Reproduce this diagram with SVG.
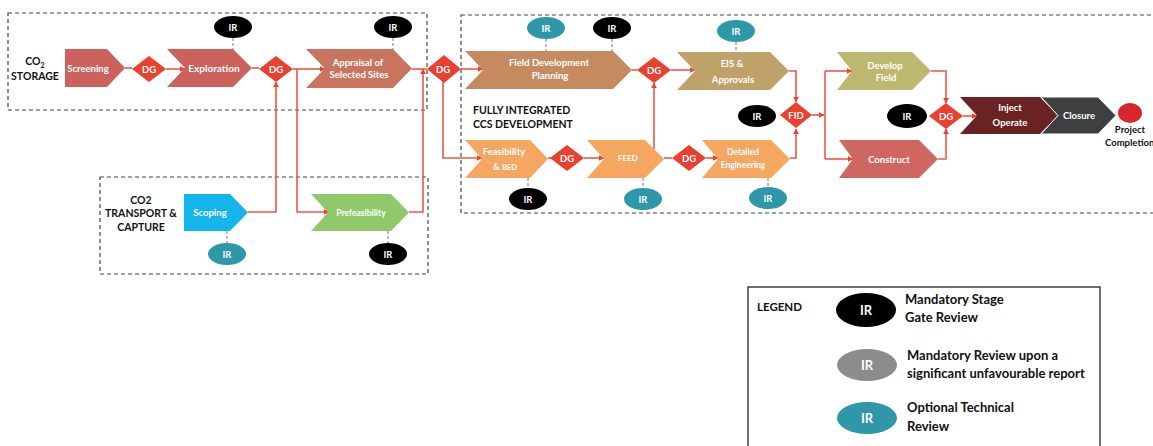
<svg xmlns="http://www.w3.org/2000/svg" width="1153" height="446" viewBox="0 0 1153 446">
<defs>
<style>
.t{font-family:Lato,"Open Sans","Liberation Sans",sans-serif;font-weight:bold;fill:#fff;text-anchor:middle}
.k{font-family:Lato,"Open Sans","Liberation Sans",sans-serif;font-weight:bold;fill:#111}
.box{fill:none;stroke:#444;stroke-width:1.2;stroke-dasharray:4 3}
.dg{fill:#EA4030}
.c{fill:none;stroke:#F05545;stroke-width:1.6}
.ca{fill:none;stroke:#F05545;stroke-width:1.6;marker-end:url(#ah)}
.dl{stroke:#777;stroke-width:1;stroke-dasharray:3 2}
.irb{fill:#000}
.irt{fill:#2E97A8}
.irg{fill:#8C8C8C}
</style>
<marker id="ah" viewBox="0 0 10 10" refX="9" refY="5" markerWidth="6" markerHeight="6" orient="auto" markerUnits="userSpaceOnUse">
<path d="M0,0 L10,5 L0,10 Z" fill="#F0402F"/>
</marker>
</defs>
<rect width="1153" height="446" fill="#fff"/>

<g id="boxes">
<rect class="box" x="8" y="13" width="419" height="97"/>
<rect class="box" x="100" y="177" width="328" height="97"/>
<rect class="box" x="461" y="15" width="720" height="198"/>
</g>

<g id="labels">
<text class="k" x="35" y="65" font-size="10.5" text-anchor="middle">CO<tspan font-size="7" dy="3">2</tspan></text>
<text class="k" x="35" y="80" font-size="10.5" text-anchor="middle">STORAGE</text>
<text class="k" x="141" y="204" font-size="10.5" text-anchor="middle">CO2</text>
<text class="k" x="141" y="217" font-size="10.5" text-anchor="middle">TRANSPORT &amp;</text>
<text class="k" x="141" y="231" font-size="10.5" text-anchor="middle">CAPTURE</text>
<text class="k" x="473" y="114" font-size="10.5">FULLY INTEGRATED</text>
<text class="k" x="473" y="128" font-size="10.5">CCS DEVELOPMENT</text>
</g>

<g id="connectors">
<path class="c" d="M125,68 H132"/>
<path class="ca" d="M166,69 H185"/>
<path class="c" d="M252,68 H259"/>
<path class="ca" d="M293,69 H325"/>
<path class="ca" d="M248,212 H276 V82"/>
<path class="ca" d="M297,69 V212 H329"/>
<path class="c" d="M412,69 H427"/>
<path class="ca" d="M409,212 H423 V69"/>
<path class="ca" d="M461,69 H483"/>
<path class="ca" d="M443,82 V158 H482"/>
<path class="c" d="M632,70 H637"/>
<path class="ca" d="M671,70 H695"/>
<path class="ca" d="M654,149 V83"/>
<path class="c" d="M548,158 H551"/>
<path class="ca" d="M584,158 H604"/>
<path class="c" d="M664,158 H672"/>
<path class="ca" d="M706,158 H718"/>
<path class="ca" d="M789,71 H796 V102"/>
<path class="ca" d="M790,158 H796 V129"/>
<path class="ca" d="M812,115 H824"/>
<path class="c" d="M825,71 V159"/>
<path class="ca" d="M825,71 H852"/>
<path class="ca" d="M825,159 H853"/>
<path class="ca" d="M931,71 H946 V103"/>
<path class="ca" d="M938,159 H946 V129"/>
<path class="ca" d="M963,116 H977"/>
<line class="dl" x1="233" y1="38" x2="233" y2="49"/>
<line class="dl" x1="393" y1="38" x2="393" y2="49"/>
<line class="dl" x1="227" y1="231" x2="227" y2="243"/>
<line class="dl" x1="388" y1="231" x2="388" y2="243"/>
<line class="dl" x1="546" y1="39" x2="546" y2="51"/>
<line class="dl" x1="612" y1="39" x2="612" y2="51"/>
<line class="dl" x1="736" y1="42" x2="736" y2="52"/>
<line class="dl" x1="528" y1="178" x2="528" y2="188"/>
<line class="dl" x1="643" y1="178" x2="643" y2="188"/>
<line class="dl" x1="768" y1="178" x2="768" y2="187"/>
</g>

<g id="screening"><path d="M65,49 H107 L125,68 L107,87 H65 Z" fill="#CB625C"/><text class="t" x="88" y="72" font-size="9.5">Screening</text></g>
<g id="dg1"><path class="dg" d="M149,56 L166,69 L149,82 L132,69 Z"/><text class="t" x="149" y="73" font-size="9.5">DG</text></g>
<g id="exploration"><path d="M167,49 H233 L252,68 L233,87 H167 L185,68 Z" fill="#CB625C"/><text class="t" x="214" y="72" font-size="10">Exploration</text></g>
<g id="ir1"><ellipse class="irb" cx="233" cy="27" rx="19" ry="11"/><text class="t" x="233" y="31" font-size="9.5">IR</text></g>
<g id="dg2"><path class="dg" d="M276,56 L293,69 L276,82 L259,69 Z"/><text class="t" x="276" y="73" font-size="9.5">DG</text></g>
<g id="appraisal"><path d="M306,49 H393 L412,68.5 L393,88 H306 L325,68.5 Z" fill="#C8745E"/><text class="t" x="358" y="66" font-size="9.5">Appraisal of</text><text class="t" x="359" y="78" font-size="9.5">Selected Sites</text></g>
<g id="ir2"><ellipse class="irb" cx="393" cy="27" rx="19" ry="11"/><text class="t" x="393" y="31" font-size="9.5">IR</text></g>
<g id="dg3"><path class="dg" d="M444,55 L461,69 L444,83 L427,69 Z"/><text class="t" x="443" y="73" font-size="9.5">DG</text></g>

<g id="scoping"><path d="M184,194 H230 L248,212.5 L230,231 H184 Z" fill="#14B5EA"/><text class="t" x="210" y="216" font-size="9.5">Scoping</text></g>
<g id="ir3"><ellipse class="irt" cx="227" cy="254" rx="19" ry="11"/><text class="t" x="227" y="258" font-size="9.5">IR</text></g>
<g id="prefeasibility"><path d="M311,194 H391 L409,212.5 L391,231 H311 L328,212.5 Z" fill="#8FC96C"/><text class="t" x="361" y="216" font-size="8.5">Prefeasibility</text></g>
<g id="ir4"><ellipse class="irb" cx="388" cy="254" rx="19" ry="11"/><text class="t" x="388" y="258" font-size="9.5">IR</text></g>

<g id="fdp"><path d="M465,51 H613 L632,70 L613,89 H465 L483,70 Z" fill="#C68A5F"/><text class="t" x="549" y="66" font-size="9.5">Field Development</text><text class="t" x="550" y="79" font-size="9.5">Planning</text></g>
<g id="ir5"><ellipse class="irt" cx="546" cy="28" rx="19" ry="11"/><text class="t" x="546" y="32" font-size="9.5">IR</text></g>
<g id="ir6"><ellipse class="irb" cx="612" cy="28" rx="19" ry="11"/><text class="t" x="612" y="32" font-size="9.5">IR</text></g>
<g id="dg4"><path class="dg" d="M654,57 L671,70 L654,83 L637,70 Z"/><text class="t" x="654" y="74" font-size="9.5">DG</text></g>
<g id="eis"><path d="M677,52 H770 L789,71 L770,90 H677 L695,71 Z" fill="#BFA26A"/><text class="t" x="732" y="67" font-size="9.5">EIS &amp;</text><text class="t" x="733" y="83" font-size="9.5">Approvals</text></g>
<g id="ir7"><ellipse class="irt" cx="736" cy="31" rx="19" ry="11"/><text class="t" x="736" y="35" font-size="9.5">IR</text></g>

<g id="feasibility"><path d="M465,140 H530 L548,159 L530,178 H465 L482,159 Z" fill="#F5A661"/><text class="t" x="504" y="155" font-size="9.5">Feasibility</text><text class="t" x="505" y="170" font-size="9.5">&amp; <tspan font-size="7.5">BED</tspan></text></g>
<g id="ir8"><ellipse class="irb" cx="528" cy="199" rx="19" ry="11"/><text class="t" x="528" y="203" font-size="9.5">IR</text></g>
<g id="dg5"><path class="dg" d="M567,145 L584,158 L567,171 L550,158 Z"/><text class="t" x="567" y="162" font-size="9.5">DG</text></g>
<g id="feed"><path d="M587,140 H645 L664,159 L645,178 H587 L604,159 Z" fill="#F5A661"/><text class="t" x="628" y="161" font-size="8">FEED</text></g>
<g id="ir9"><ellipse class="irt" cx="643" cy="199" rx="19" ry="11"/><text class="t" x="643" y="203" font-size="9.5">IR</text></g>
<g id="dg6"><path class="dg" d="M689,145 L706,158 L689,171 L672,158 Z"/><text class="t" x="689" y="162" font-size="9.5">DG</text></g>
<g id="deteng"><path d="M702,140 H771 L790,159 L771,178 H702 L718,159 Z" fill="#F5A661"/><text class="t" x="743" y="155" font-size="8.5">Detailed</text><text class="t" x="743" y="168" font-size="8.5">Engineering</text></g>
<g id="ir10"><ellipse class="irt" cx="768" cy="198" rx="19" ry="11"/><text class="t" x="768" y="202" font-size="9.5">IR</text></g>

<g id="fid"><path class="dg" d="M796,102 L812,115 L796,128 L780,115 Z"/><text class="t" x="796" y="119" font-size="9.5">FID</text></g>
<g id="ir11"><ellipse class="irb" cx="757" cy="116" rx="19" ry="11"/><text class="t" x="757" y="120" font-size="9.5">IR</text></g>
<g id="develop"><path d="M837,52 H912 L931,71 L912,90 H837 L852,71 Z" fill="#BDB870"/><text class="t" x="885" y="69" font-size="9.5">Develop</text><text class="t" x="886" y="81" font-size="9.5">Field</text></g>
<g id="construct"><path d="M839,140 H919 L938,159 L919,178 H839 L853,159 Z" fill="#CF6660"/><text class="t" x="889" y="163" font-size="9.5">Construct</text></g>
<g id="dg7"><path class="dg" d="M946,103 L963,116 L946,129 L929,116 Z"/><text class="t" x="946" y="120" font-size="9.5">DG</text></g>
<g id="ir12"><ellipse class="irb" cx="907" cy="116" rx="20" ry="12"/><text class="t" x="907" y="120" font-size="9.5">IR</text></g>
<g id="inject"><path d="M960,97 H1040 L1058,115.5 L1040,134 H960 L977,115.5 Z" fill="#6B2222"/><text class="t" x="1010" y="111" font-size="9.5">Inject</text><text class="t" x="1010" y="126" font-size="9.5">Operate</text></g>
<g id="closure"><path d="M1041,97 H1098 L1116,115.5 L1098,134 H1041 L1058,115.5 Z" fill="#3D3F41" stroke="#fff" stroke-width="1"/><text class="t" x="1079" y="119" font-size="9.5">Closure</text></g>
<g id="completion"><ellipse cx="1130" cy="113" rx="12" ry="10" fill="#D9262B"/><text class="k" x="1130" y="133" font-size="9.5" text-anchor="middle">Project</text><text class="k" x="1105" y="146" font-size="9.5">Completion</text></g>

<g id="legend">
<rect x="748" y="287" width="352" height="170" fill="none" stroke="#222" stroke-width="1.3"/>
<text class="k" x="757" y="311" font-size="11.5">LEGEND</text>
<ellipse class="irb" cx="866" cy="310" rx="30" ry="17"/><text class="t" x="866" y="315" font-size="13">IR</text>
<text class="k" x="905" y="304" font-size="13">Mandatory Stage</text>
<text class="k" x="905" y="322" font-size="13">Gate Review</text>
<ellipse class="irg" cx="867" cy="365" rx="30" ry="16"/><text class="t" x="867" y="370" font-size="13">IR</text>
<text class="k" x="907" y="360" font-size="13">Mandatory Review upon a</text>
<text class="k" x="907" y="378" font-size="13">significant unfavourable report</text>
<ellipse class="irt" cx="867" cy="418" rx="30" ry="16"/><text class="t" x="867" y="423" font-size="13">IR</text>
<text class="k" x="907" y="412" font-size="13">Optional Technical</text>
<text class="k" x="907" y="431" font-size="13">Review</text>
</g>
</svg>
